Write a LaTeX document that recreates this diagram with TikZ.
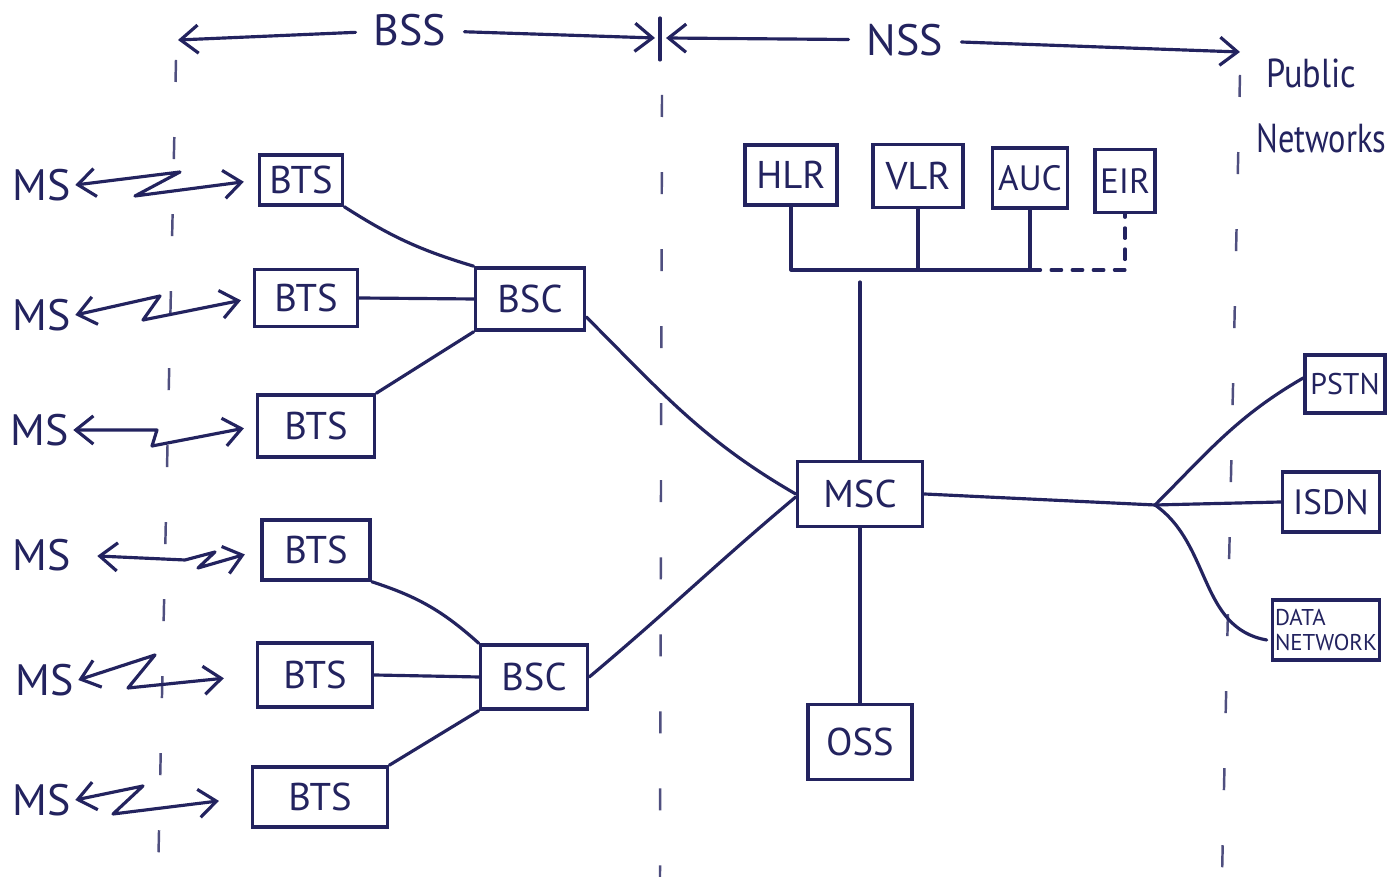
\documentclass[tikz,border=0pt]{standalone}
\usepackage{fontspec}
\usepackage{graphicx}
\setmainfont{PT Sans}
\usetikzlibrary{arrows.meta,calc}
\definecolor{ink}{RGB}{35,35,95}
\tikzset{
  ink line/.style={draw=ink, line width=0.9pt, line cap=round, line join=round},
  box/.style={draw=ink, line width=1pt, inner sep=0pt, text=ink, font=\fontsize{11}{13}\selectfont},
  lbl/.style={text=ink, inner sep=1pt, font=\fontsize{12.5}{14}\selectfont},
  sep line/.style={draw=ink!80, line width=0.7pt, dash pattern=on 0.22cm off 0.55cm},
  >={Straight Barb[length=5pt,width=8pt]}
}
\begin{document}
\begin{tikzpicture}[x=0.01cm,y=-0.01cm]
\useasboundingbox[fill=white] (0,0) rectangle (1396,877);

% separators
\draw[sep line] (176,60) -- (158,877);
\draw[ink line] (660,18) -- (660,60);
\draw[sep line] (662,95) -- (660,877);
\draw[sep line] (1240,75) -- (1222,877);

% top labels
\node[lbl, inner sep=5pt] (bss) at (410,30) {BSS};
\node[lbl, inner sep=5pt] (nss) at (905,40) {NSS};
\coordinate (bssL) at (178,40);
\coordinate (bssR) at (655,38);
\coordinate (nssL) at (666,38);
\coordinate (nssR) at (1240,52);
\draw[ink line,->] (bss) -- (bssL);
\draw[ink line,->] (bss) -- (bssR);
\draw[ink line,->] (nss) -- (nssL);
\draw[ink line,->] (nss) -- (nssR);
\node[lbl, anchor=north west, align=left, font=\fontsize{11.5}{18.5}\selectfont] (pub) at (1252,55) {\hspace*{0.1cm}\scalebox{0.85}[1]{Public}\\\scalebox{0.8}[1]{Networks}};

% BTS boxes
\node[box, minimum width=0.83cm, minimum height=0.50cm] (bts1) at (301,180) {BTS};
\node[box, minimum width=1.03cm, minimum height=0.57cm] (bts2) at (306,298) {BTS};
\node[box, minimum width=1.17cm, minimum height=0.62cm] (bts3) at (316,426) {BTS};
\node[box, minimum width=1.08cm, minimum height=0.60cm] (bts4) at (316,550) {BTS};
\node[box, minimum width=1.15cm, minimum height=0.64cm] (bts5) at (315,675) {BTS};
\node[box, minimum width=1.35cm, minimum height=0.60cm] (bts6) at (320,797) {BTS};

% BSC boxes
\node[box, minimum width=1.09cm, minimum height=0.62cm] (bsc1) at (530,299) {BSC};
\node[box, minimum width=1.07cm, minimum height=0.64cm] (bsc2) at (534,677) {BSC};

% NSS boxes
\node[box, minimum width=1.25cm, minimum height=0.65cm] (msc) at (860,494) {MSC};
\node[box, minimum width=1.04cm, minimum height=0.75cm] (oss) at (860,742) {OSS};
\node[box, minimum width=0.92cm, minimum height=0.60cm] (hlr) at (791,175) {HLR};
\node[box, minimum width=0.90cm, minimum height=0.63cm] (vlr) at (918,176) {VLR};
\node[box, minimum width=0.75cm, minimum height=0.60cm, font=\fontsize{10}{12}\selectfont] (auc) at (1030,178) {AUC};
\node[box, minimum width=0.60cm, minimum height=0.63cm, font=\fontsize{10}{12}\selectfont] (eir) at (1125,181) {EIR};

% public network boxes
\node[box, minimum width=0.80cm, minimum height=0.58cm, font=\fontsize{8.5}{10}\selectfont] (pstn) at (1345,384) {PSTN};
\node[box, minimum width=0.97cm, minimum height=0.60cm, font=\fontsize{10}{12}\selectfont] (isdn) at (1331,502) {ISDN};
\node[box, minimum width=1.07cm, minimum height=0.60cm, align=left, font=\fontsize{6.5}{7}\selectfont] (data) at (1326,630) {DATA\\NETWORK};

% MS labels
\node[lbl] (ms1) at (42,185) {MS};
\node[lbl] (ms2) at (42,315) {MS};
\node[lbl] (ms3) at (40,430) {MS};
\node[lbl] (ms4) at (42,555) {MS};
\node[lbl] (ms5) at (45,680) {MS};
\node[lbl] (ms6) at (42,800) {MS};

% radio links MS <-> BTS
\draw[ink line,<->,shorten >=0.14cm] (ms1.east) -- (180,172) -- (135,196) -- (bts1.west);
\draw[ink line,<->,shorten >=0.12cm] (ms2.east) -- (160,296) -- (143,320) -- (bts2.west);
\draw[ink line,<->,shorten >=0.12cm] (ms3.east) -- (157,430) -- (152,446) -- (bts3.west);
\draw[ink line,<->,shorten <=0.22cm,shorten >=0.16cm] (ms4.east) -- (185,560) -- (215,552) -- (198,568) -- (bts4.west);
\draw[ink line,<->,shorten >=0.32cm] (ms5.east) -- (155,655) -- (128,688) -- (bts5.west);
\draw[ink line,<->,shorten >=0.32cm] (ms6.east) -- (143,786) -- (113,814) -- (bts6.west);

% BTS - BSC
\draw[ink line] (bts1.south east) to[bend right=8] (bsc1.north west);
\draw[ink line] (bts2.east) -- (bsc1.west);
\draw[ink line] (bts3.north east) -- (bsc1.south west);
\draw[ink line] (bts4.south east) to[bend left=12] (bsc2.north west);
\draw[ink line] (bts5.east) -- (bsc2.west);
\draw[ink line] (bts6.north east) -- (bsc2.south west);

% BSC - MSC
\draw[ink line] ($(bsc1.east)+(0,18)$) to[out=-45,in=150] (msc.west);
\draw[ink line] (bsc2.east) to[out=40,in=-140] ($(msc.west)+(0,3)$);

% databases bus
\coordinate (by) at (0,270);
\draw[ink line] (hlr.south) -- (hlr.south |- by) -- (auc.south |- by);
\draw[ink line] (vlr.south) -- (vlr.south |- by);
\draw[ink line] (auc.south) -- (auc.south |- by);
\draw[ink line,dashed] (auc.south |- by) -- (eir.south |- by) -- (eir.south);
\draw[ink line] (msc.north) -- ($(msc.north |- by)+(0,12)$);

% MSC - OSS
\draw[ink line] (msc.south) -- (oss.north);

% MSC - public networks
\coordinate (j) at (1155,505);
\draw[ink line] (msc.east) -- (j);
\draw[ink line] (j) to[out=45,in=-150] ($(pstn.west)+(0,-6)$);
\draw[ink line] (j) -- (isdn.west);
\draw[ink line] (j) to[out=-35,in=170] ($(data.west)+(-4,10)$);
\end{tikzpicture}
\end{document}
